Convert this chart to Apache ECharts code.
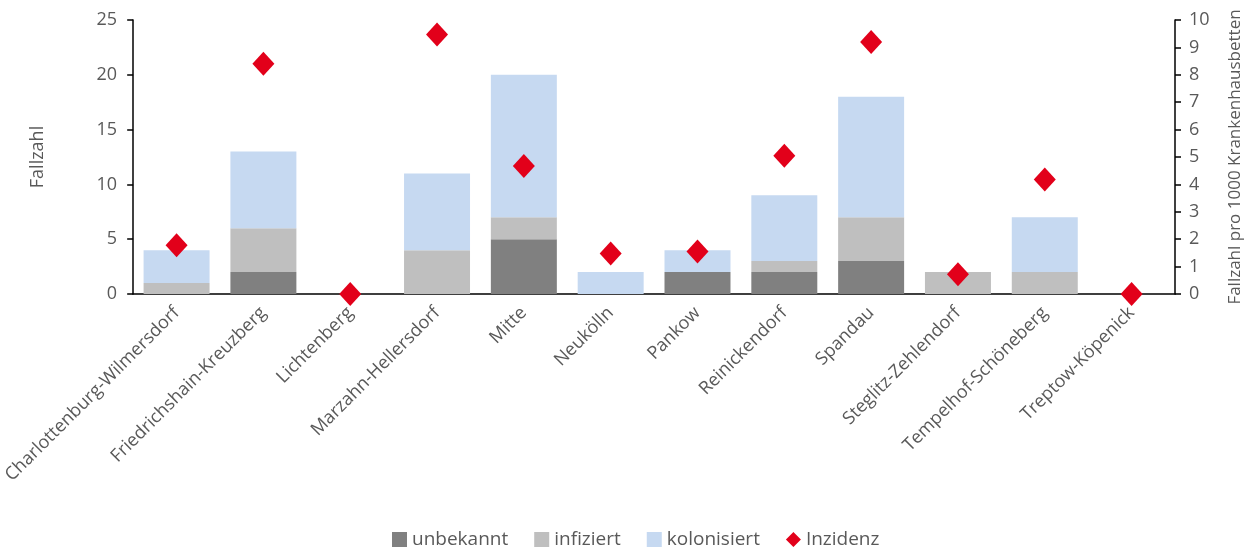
<!DOCTYPE html>
<html><head><meta charset="utf-8">
<script src="https://cdn.jsdelivr.net/npm/echarts@6/dist/echarts.min.js"></script>
<style>html,body{margin:0;padding:0;background:#fff}#c{width:1255px;height:550px}</style>
</head><body><div id="c"></div>
<script>
const categories = ["Charlottenburg-Wilmersdorf","Friedrichshain-Kreuzberg","Lichtenberg","Marzahn-Hellersdorf","Mitte","Neukölln","Pankow","Reinickendorf","Spandau","Steglitz-Zehlendorf","Tempelhof-Schöneberg","Treptow-Köpenick"];
const unbekannt = [0,2,0,0,5,0,2,2,3,0,0,0];
const infiziert = [1,4,0,4,2,0,0,1,4,2,2,0];
const kolonisiert = [3,7,0,7,13,2,2,6,11,0,5,0];
const inzidenz = [1.78,8.4,0,9.47,4.67,1.48,1.55,5.05,9.2,0.72,4.18,0];

const FONT = '"Open Sans", Lato, sans-serif';
const TXT = '#595959';
const chart = echarts.init(document.getElementById('c'), null, {renderer:'canvas'});
chart.setOption({
  animation:false,
  textStyle:{fontFamily:FONT},
  grid:{left:133,right:80,top:20,bottom:256,containLabel:false},
  legend:{top:530,left:392,itemWidth:15,itemHeight:15,itemGap:26,padding:0,
    textStyle:{fontFamily:FONT,fontSize:19,color:TXT},
    data:[{name:'unbekannt',icon:'rect'},{name:'infiziert',icon:'rect'},{name:'kolonisiert',icon:'rect'},{name:'Inzidenz',icon:'diamond'}]},
  xAxis:{type:'category',data:categories,
    axisLine:{lineStyle:{color:'#000',width:1.5}},axisTick:{show:false},
    axisLabel:{rotate:45,interval:0,fontFamily:FONT,fontSize:18,color:TXT,margin:16}},
  yAxis:[
    {type:'value',min:0,max:25,interval:5,name:'Fallzahl',nameLocation:'middle',nameGap:86,
     nameTextStyle:{fontFamily:FONT,fontSize:18,color:TXT},
     axisLine:{show:true,lineStyle:{color:'#000',width:1.5}},axisTick:{show:true,length:6,lineStyle:{color:'#000',width:1.5}},
     splitLine:{show:false},axisLabel:{fontFamily:FONT,fontSize:18,color:TXT,margin:16}},
    {type:'value',min:0,max:10,interval:1,name:'Fallzahl pro 1000 Krankenhausbetten',nameLocation:'middle',nameGap:52,
     nameTextStyle:{fontFamily:FONT,fontSize:17,color:TXT},
     axisLine:{show:true,lineStyle:{color:'#000',width:1.5}},axisTick:{show:true,length:6,lineStyle:{color:'#000',width:1.5}},
     splitLine:{show:false},axisLabel:{fontFamily:FONT,fontSize:18,color:TXT,margin:14}}
  ],
  series:[
    {name:'unbekannt',type:'bar',stack:'a',data:unbekannt,barCategoryGap:'24%',itemStyle:{color:'#808080'}},
    {name:'infiziert',type:'bar',stack:'a',data:infiziert,itemStyle:{color:'#BFBFBF'}},
    {name:'kolonisiert',type:'bar',stack:'a',data:kolonisiert,itemStyle:{color:'#C6D9F1'}},
    {name:'Inzidenz',type:'scatter',yAxisIndex:1,data:inzidenz,symbol:'diamond',symbolSize:[22,24],itemStyle:{color:'#E2001A',opacity:1},z:5}
  ]
});
</script></body></html>
